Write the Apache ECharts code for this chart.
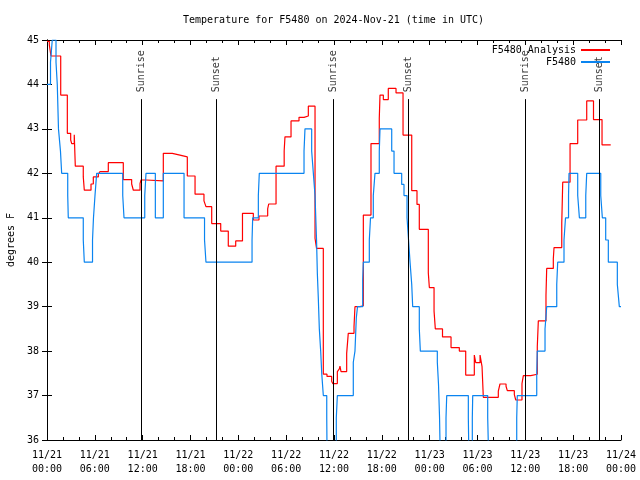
<!DOCTYPE html>
<html><head><meta charset="utf-8">
<script src="https://cdn.jsdelivr.net/npm/echarts@6/dist/echarts.min.js"></script>
<style>html,body{margin:0;padding:0;background:#fff}#c{width:640px;height:480px}</style>
</head><body><div id="c"></div>
<script>
// hours since 2024-11-21 00:00 UTC
var analysisHours = [0,0.29,0.50,1.72,2.55,2.97,3.10,3.42,3.55,4.55,4.68,5.52,5.81,6.44,6.65,7.69,9.57,10.62,10.83,11.67,11.79,12.42,14.59,15.72,16.68,17.60,18.57,19.69,19.94,20.66,21.79,22.74,23.67,24.52,25.88,26.59,27.68,27.81,28.73,29.75,29.85,30.61,31.61,32.24,32.78,33.62,33.81,34.66,35.12,35.71,35.84,36.42,36.67,36.75,36.88,37.59,37.79,38.51,38.63,39.26,39.68,40.64,41.68,41.77,42.19,42.81,43.78,44.66,45.75,46.41,46.70,47.83,47.96,48.55,48.71,49.61,50.68,51.72,52.52,53.60,53.78,54.32,54.57,54.73,56.61,56.82,57.58,57.74,58.62,58.80,59.58,59.75,60.68,61.50,61.63,62.59,62.68,63.51,63.60,64.57,64.69,65.61,66.57,67.70,68.55,69.62,70.71];
var analysisTemps = [44.97,44.89,44.64,43.76,42.9,42.75,42.67,42.87,42.16,41.92,41.62,41.76,41.92,41.98,42.04,42.24,41.86,41.76,41.62,41.77,41.85,41.83,42.45,42.41,42.37,41.94,41.53,41.38,41.25,40.87,40.7,40.36,40.48,41.1,40.95,41.04,41.2,41.31,42.16,42.51,42.82,43.18,43.26,43.29,43.51,40.54,40.31,37.48,37.43,37.32,37.27,37.54,37.6,37.66,37.54,37.95,38.4,38.55,39.0,39.02,41.06,42.67,43.24,43.76,43.66,43.91,43.81,42.86,41.61,41.3,40.74,39.76,39.43,38.9,38.5,38.32,38.08,38.0,37.46,37.91,37.74,37.91,37.65,36.96,37.1,37.26,37.21,37.11,37.02,36.9,37.27,37.45,37.48,38.1,38.68,39.26,39.86,40.08,40.33,40.87,41.8,42.67,43.2,43.63,43.21,42.64,42.64];
var obsHours = [0,0.44,0.66,1.13,1.29,1.44,1.69,1.84,2.60,2.67,4.55,4.68,5.71,5.83,6.02,6.23,9.50,9.66,12.26,12.42,13.59,14.59,17.19,19.76,19.94,25.72,25.80,26.51,26.63,32.24,32.36,33.20,33.41,33.62,33.81,33.91,34.03,34.16,34.33,34.46,34.66,35.09,35.16,36.29,36.42,38.42,38.63,38.80,38.95,39.60,39.68,40.43,40.58,40.93,41.14,41.68,41.77,43.24,43.53,44.49,44.78,45.16,45.35,45.54,45.75,45.87,46.70,46.83,48.96,49.11,49.24,49.39,50.05,50.14,52.85,52.97,53.35,53.40,55.28,55.48,58.92,58.99,61.43,61.50,62.47,62.68,63.94,64.06,64.85,65.04,65.42,65.48,66.57,66.78,67.58,67.70,69.46,69.66,70.08,70.41,71.54,71.79,72];
var obsTemps = [44,44.5,45,44.5,44,43,42.5,42,41.5,41,40.5,40,40.5,41,41.5,42,41.5,41,41.5,42,41,42,41,40.5,40,40.5,41,41.5,42,42.5,43,42.5,42,41.5,40.5,39.75,39.2,38.5,38,37.5,37,36.5,35,36.5,37,37.75,38,38.75,39,39.6,40,40.5,41,41.5,42,42.5,43,42.5,42,41.75,41.5,41,40.5,40,39.5,39,38.5,38,37.75,37.25,36.5,35,36.5,37,36.5,35,36.5,37,36.5,35,36.5,37,37.5,38,38.5,39,39.5,40,40.5,41,41.5,42,41.5,41,41.5,42,41.5,41,40.5,40,39.5,39,39];
var sunHours = [11.79,21.2,35.92,45.33,60.05,69.28];
var sunLabels = ["Sunrise","Sunset","Sunrise","Sunset","Sunrise","Sunset"];
var xTickDates = ["11/21","11/21","11/21","11/21","11/22","11/22","11/22","11/22","11/23","11/23","11/23","11/23","11/24"];
var xTickTimes = ["00:00","06:00","12:00","18:00","00:00","06:00","12:00","18:00","00:00","06:00","12:00","18:00","00:00"];
var yTicks = [36,37,38,39,40,41,42,43,44,45];

function zip(a,b){return a.map(function(v,i){return [v,b[i]];});}
var FONT = 'DejaVu Sans Mono';
var txt = {fontFamily: FONT, fontSize: 10, color: '#000'};
var axisBase = {
  type: 'value', min: 0, max: 72, interval: 6,
  axisLine: {show: true, lineStyle: {color: '#000', width: 1}},
  axisTick: {show: true, inside: true, length: 5, lineStyle: {color: '#000'}},
  minorTick: {show: true, splitNumber: 3, length: 3, lineStyle: {color: '#000'}},
  splitLine: {show: false}
};
var chart = echarts.init(document.getElementById('c'), null, {renderer: 'canvas'});
chart.setOption({
  animation: false,
  backgroundColor: '#fff',
  title: {text: 'Temperature for F5480 on 2024-Nov-21 (time in UTC)', left: 178, top: 10,
    textStyle: {fontFamily: FONT, fontSize: 10, fontWeight: 'normal', color: '#000'}},
  legend: {
    orient: 'vertical', right: 30, top: 45, padding: 0, itemGap: 2, align: 'right',
    itemWidth: 29, itemHeight: 2, textStyle: txt,
    data: [{name: 'F5480 Analysis', icon: 'rect'}, {name: 'F5480', icon: 'rect'}]
  },
  grid: {left: 47, right: 19, top: 40, bottom: 40, containLabel: false, outerBoundsMode: 'none'},
  xAxis: [
    Object.assign({}, axisBase, {position: 'bottom',
      axisLabel: {show: true, margin: 8, fontFamily: FONT, fontSize: 10, color: '#000', lineHeight: 14,
        formatter: function(v){var i = Math.round(v/6); return xTickDates[i] + '\n' + xTickTimes[i];}}}),
    Object.assign({}, axisBase, {position: 'top', axisLabel: {show: false}})
  ],
  yAxis: [
    {type: 'value', min: yTicks[0], max: yTicks[yTicks.length-1], interval: 1, position: 'left',
      name: 'degrees F', nameLocation: 'middle', nameGap: 31, nameRotate: 90,
      nameTextStyle: txt,
      axisLine: {show: true, lineStyle: {color: '#000'}},
      axisTick: {show: true, inside: true, length: 5, lineStyle: {color: '#000'}},
      axisLabel: {margin: 8, fontFamily: FONT, fontSize: 10, color: '#000'},
      splitLine: {show: false}},
    {type: 'value', min: yTicks[0], max: yTicks[yTicks.length-1], interval: 1, position: 'right',
      axisLine: {show: true, lineStyle: {color: '#000'}},
      axisTick: {show: true, inside: true, length: 5, lineStyle: {color: '#000'}},
      axisLabel: {show: false}, splitLine: {show: false}}
  ],
  series: [
    {name: 'F5480 Analysis', type: 'line', step: 'end', symbol: 'none', clip: true,
      data: zip(analysisHours, analysisTemps),
      lineStyle: {color: '#ff0000', width: 1.2}, itemStyle: {color: '#ff0000'}},
    {name: 'F5480', type: 'line', step: 'end', symbol: 'none', clip: true,
      data: zip(obsHours, obsTemps),
      lineStyle: {color: '#0a84f0', width: 1.2}, itemStyle: {color: '#0a84f0'}},
    {name: 'sun', type: 'scatter', symbolSize: 0, silent: true, clip: false,
      data: sunHours.map(function(h,i){return {value: [h, 43.8], name: sunLabels[i]};}),
      label: {show: true, position: 'inside', rotate: 90, align: 'left', verticalAlign: 'middle',
        offset: [1, 0], formatter: function(p){return p.name;}, fontFamily: FONT, fontSize: 10, color: '#000'},
      markLine: {silent: true, symbol: 'none', label: {show: false},
        lineStyle: {color: '#000', width: 1, type: 'solid'},
        data: sunHours.map(function(h){return [{coord: [h, 36]}, {coord: [h, 43.67]}];})}}
  ]
});
</script></body></html>
